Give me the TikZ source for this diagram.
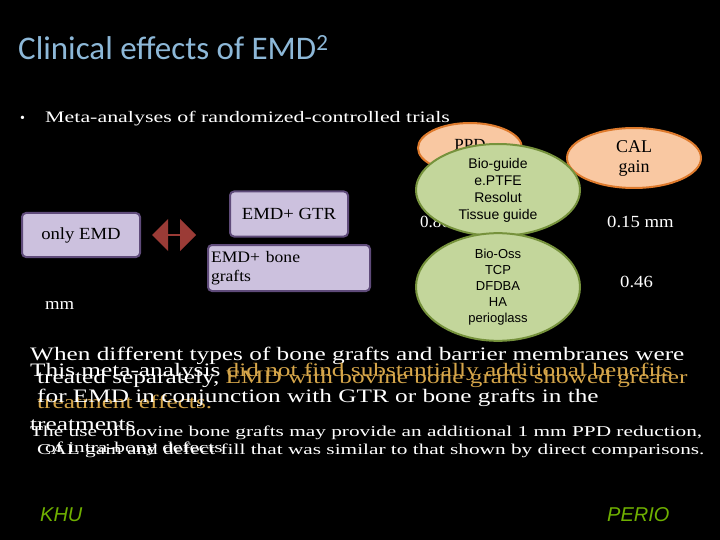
\documentclass[tikz,border=0pt]{standalone}
\usepackage{fontspec}
\setmainfont{Liberation Serif}
\newfontfamily\titlefont{Carlito}
\newfontfamily\nfont{Liberation Sans}
\usetikzlibrary{shapes.geometric,shapes.arrows}
\newcommand{\widen}[2][1.33]{\scalebox{#1}[1]{#2}}
\definecolor{ttl}{HTML}{8DB8D8}
\definecolor{lav}{HTML}{CCC1DE}
\definecolor{lavb}{HTML}{5F4B7A}
\definecolor{org}{HTML}{F9C8A2}
\definecolor{orgb}{HTML}{DE7A2C}
\definecolor{grn}{HTML}{C3D69B}
\definecolor{grnb}{HTML}{76923C}
\definecolor{gold}{HTML}{D6A64A}
\definecolor{khu}{HTML}{6FB000}
\definecolor{arrc}{HTML}{9B3B36}
\tikzset{
 lbox/.style={draw=lavb,line width=2pt,fill=lav,rounded corners=4pt,inner sep=2pt},
 oell/.style={ellipse,draw=orgb,line width=2pt,fill=org,inner sep=0pt},
 gell/.style={ellipse,draw=grnb,line width=2pt,fill=grn,inner sep=0pt,align=center,font=\nfont\fontsize{14}{17}\selectfont},
 txt/.style={anchor=base west,inner sep=0pt,text=white},
}
\begin{document}
\begin{tikzpicture}[x=1pt,y=-1pt]
\fill[black] (0,0) rectangle (720,540);
\useasboundingbox (0,0) rectangle (720,540);
\node[txt,text=ttl,font=\titlefont\fontsize{33}{33}\selectfont] (title) at (18,60) {Clinical effects of EMD\textsuperscript{2}};
\node[txt,font=\fontsize{14}{14}\selectfont] (bul) at (20,123) {•};
\node[txt,font=\fontsize{16}{16}\selectfont] (meta) at (45,123) {\widen[1.37]{Meta-analyses of randomized-controlled trials}};
\node[lbox,minimum width=118pt,minimum height=44pt,font=\fontsize{17}{17}\selectfont] (emd) at (81,235) {\widen[1.1]{only EMD}};
\node[double arrow,draw=none,fill=arrc,minimum width=32pt,double arrow head extend=4pt,minimum height=44pt,inner sep=0pt] (arr) at (174,235) {};
\node[lbox,minimum width=118pt,minimum height=45pt,font=\fontsize{17}{17}\selectfont] (gtr) at (289,214) {\widen[1.1]{EMD+ GTR}};
\node[lbox,minimum width=162pt,minimum height=46pt,align=left,text width=156pt,font=\fontsize{16}{19}\selectfont] (bone) at (289,268) {\widen[1.1]{EMD+ bone}\\\widen[1.1]{grafts}\\[-7pt]};
\node[txt,font=\fontsize{17}{17}\selectfont] (mm) at (45,309) {\widen[1.1]{mm}};
\node[oell,minimum width=104pt,minimum height=50pt,font=\fontsize{17}{17}\selectfont] (ppd) at (470,148) {\raisebox{6pt}{PPD}};
\node[oell,minimum width=134pt,minimum height=60pt,align=center,font=\fontsize{18}{20}\selectfont] (cal) at (634,158) {CAL\\gain};
\node[txt,font=\fontsize{17}{17}\selectfont] (v1) at (420,228) {0.86 mm};
\node[gell,minimum width=164pt,minimum height=92pt] (g1) at (498,190) {Bio-guide\\e.PTFE\\Resolut\\Tissue guide};
\node[gell,minimum width=164pt,minimum height=92pt,font=\nfont\fontsize{13}{16}\selectfont] (g2) at (498,287) {Bio-Oss\\TCP\\DFDBA\\HA\\perioglass};
\node[txt,font=\fontsize{17}{17}\selectfont] (v2) at (607,228) {\widen[1.1]{0.15 mm}};
\node[txt,font=\fontsize{17}{17}\selectfont] (v3) at (620,287) {\widen[1.1]{0.46}};
\begin{scope}[every node/.style={txt,font=\fontsize{19}{19}\selectfont}]
\node (a1) at (30,360) {\widen[1.33]{When different types of bone grafts and barrier membranes were}};
\node (a2) at (37,383) {\widen[1.33]{treated separately, \textcolor{gold}{EMD with bovine bone grafts showed greater}}};
\node (a3) at (37,408) {\widen[1.33]{\textcolor{gold}{treatment effects.}}};
\node (b1) at (30,376) {\widen[1.33]{This meta-analysis \textcolor{gold}{did not find substantially additional benefits}}};
\node (b2) at (37,402) {\widen[1.33]{for EMD in conjunction with GTR or bone grafts in the}};
\node (b3) at (30,430) {\widen[1.33]{treatments}};
\end{scope}
\begin{scope}[every node/.style={txt,font=\fontsize{15}{15}\selectfont}]
\node (c1) at (30,436) {\widen[1.42]{The use of bovine bone grafts may provide an additional 1 mm PPD reduction,}};
\node (c2) at (37,454) {\widen[1.42]{CAL gain and defect fill that was similar to that shown by direct comparisons.}};
\node (c3) at (45,452) {\widen[1.42]{of intra-bony defects}};
\end{scope}
\node[txt,text=khu,font=\nfont\itshape\fontsize{20}{20}\selectfont] (k) at (40,521) {KHU};
\node[txt,text=khu,font=\nfont\itshape\fontsize{20}{20}\selectfont] (p) at (607,521) {PERIO};
\end{tikzpicture}
\end{document}
